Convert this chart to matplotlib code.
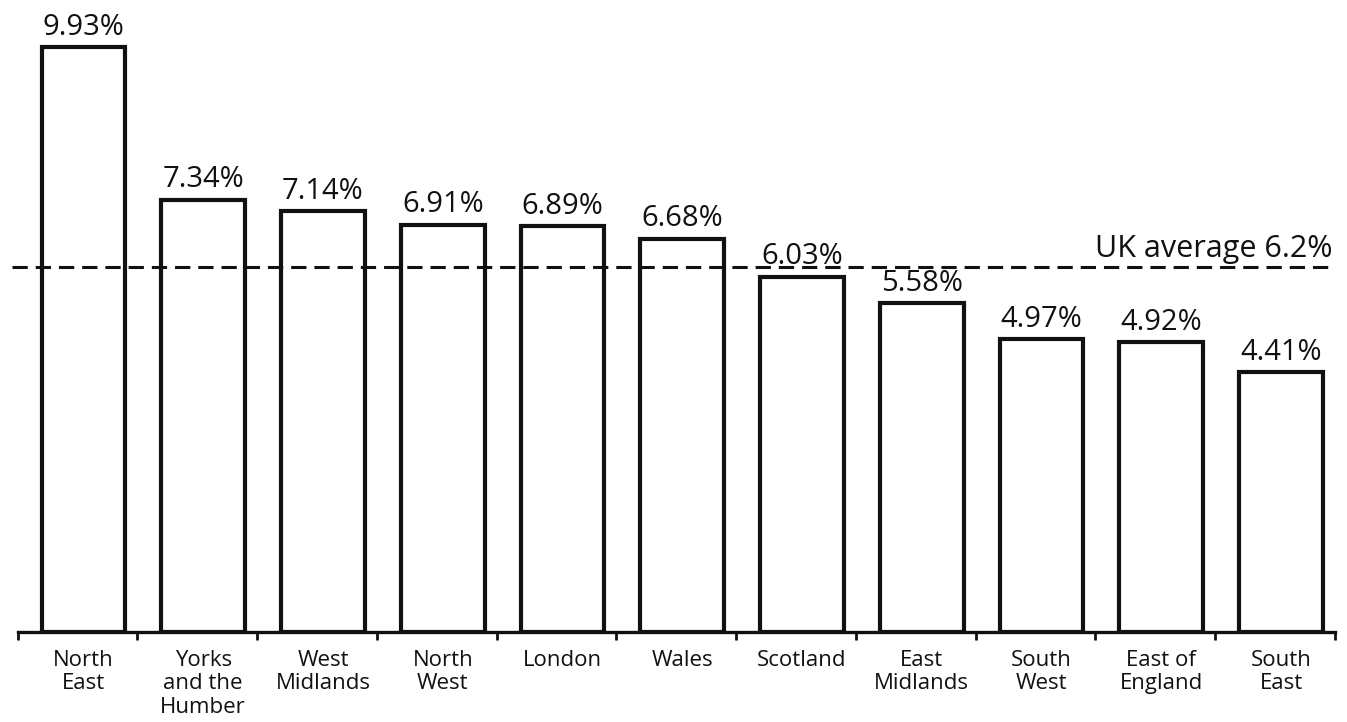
import matplotlib
matplotlib.use("Agg")
import matplotlib.pyplot as plt
import numpy as np

regions = ["North\nEast", "Yorks\nand the\nHumber", "West\nMidlands", "North\nWest",
           "London", "Wales", "Scotland", "East\nMidlands", "South\nWest",
           "East of\nEngland", "South\nEast"]
values = [9.93, 7.34, 7.14, 6.91, 6.89, 6.68, 6.03, 5.58, 4.97, 4.92, 4.41]
value_labels = ["9.93%", "7.34%", "7.14%", "6.91%", "6.89%", "6.68%", "6.03%",
                "5.58%", "4.97%", "4.92%", "4.41%"]
uk_average = 6.2
uk_label = "UK average 6.2%"

FONT = ["Open Sans", "DejaVu Sans"]
plt.rcParams["font.family"] = FONT

W, H = 1347, 722
fig = plt.figure(figsize=(W / 100, H / 100), dpi=100)
left_px, right_px, base_px = 17.6, 1335, 632
ax = fig.add_axes([left_px / W, (H - base_px) / H, (right_px - left_px) / W, base_px / H])

x = np.arange(len(values))
ax.bar(x, values, width=0.7, color="white", edgecolor="#111111", linewidth=3.0, zorder=3)

for xi, v, lab in zip(x, values, value_labels):
    ax.annotate(lab, (xi, v), xytext=(0, 4), textcoords="offset points",
                ha="center", va="bottom", fontsize=21, color="#111111", zorder=5)

ax.plot([-0.6, 10.45], [uk_average, uk_average], linestyle=(0, (5, 2.6)),
        color="#111111", linewidth=2.2, clip_on=False, zorder=4)
ax.annotate(uk_label, (10.43, uk_average), xytext=(0, 2), textcoords="offset points",
            ha="right", va="bottom", fontsize=22, color="#111111", zorder=5)

ax.set_xlim(-0.55, 10.45)
ax.set_ylim(0, base_px / 58.9)

for s in ["top", "right", "left"]:
    ax.spines[s].set_visible(False)
ax.spines["bottom"].set_linewidth(2.4)
ax.spines["bottom"].set_color("#111111")
ax.set_yticks([])

ax.set_xticks(x)
ax.set_xticklabels(regions, fontsize=16, linespacing=1.15, color="#111111")
ax.tick_params(axis="x", which="major", length=0, pad=13)
ax.set_xticks(np.arange(len(values) + 1) - 0.55, minor=True)
ax.tick_params(axis="x", which="minor", length=6, width=2, color="#111111")

fig.savefig("out.png", dpi=100, facecolor="white")
